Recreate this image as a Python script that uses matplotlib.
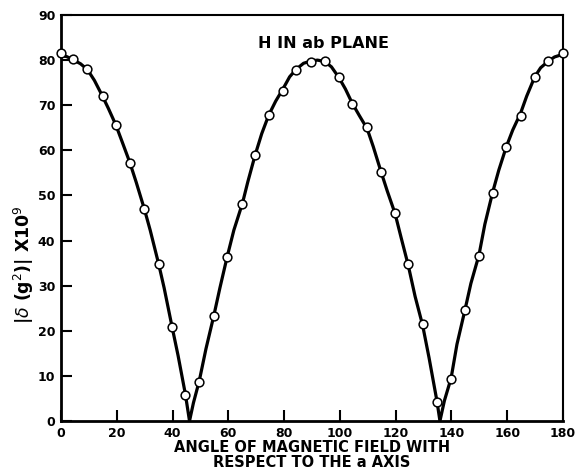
import matplotlib
matplotlib.use("Agg")
import matplotlib.pyplot as plt

# Measured data points (angle in degrees, |delta(g^2)| x 1e9)
angles = [0, 4.3, 9.5, 14.9, 19.7, 24.7, 29.9, 35.0, 39.8, 44.6, 49.6, 54.8, 59.6,
          65.1, 69.6, 74.5, 79.6, 84.4, 89.6, 94.6, 99.7, 104.4, 109.8, 114.7, 119.8,
          124.5, 129.7, 134.8, 139.9, 144.9, 149.9, 154.8, 159.7, 164.8, 169.9, 174.8, 180]
values = [81.5, 80.2, 78.1, 72.0, 65.6, 57.3, 47.0, 34.7, 20.8, 5.8, 8.7, 23.2, 36.4,
          48.1, 58.9, 67.8, 73.2, 77.9, 79.6, 79.9, 76.3, 70.3, 65.2, 55.3, 46.2,
          34.7, 21.4, 4.1, 9.2, 24.5, 36.5, 50.6, 60.8, 67.7, 76.3, 79.7, 81.5]

# Smooth curve (with cusps at zero crossings)
curve_angles = [0, 2, 4.3, 7, 9.5, 12, 14.9, 17, 19.7, 22, 24.7, 27, 29.9, 32, 35.0, 37,
                39.8, 42, 44.6, 46.1, 47.5, 49.6, 52, 54.8, 57, 59.6, 62, 65.1, 67, 69.6,
                72, 74.5, 77, 79.6, 82, 84.4, 87, 89.6, 92, 94.6, 97, 99.7, 102, 104.4,
                107, 109.8, 112, 114.7, 117, 119.8, 122, 124.5, 127, 129.7, 132, 134.8,
                135.9, 137.5, 139.9, 142, 144.9, 147, 149.9, 152, 154.8, 157, 159.7, 162,
                164.8, 167, 169.9, 172, 174.8, 177, 180]
curve_values = [81.0, 80.8, 80.1, 79.2, 77.9, 75.5, 72.0, 69.3, 65.6, 61.8, 57.3, 52.9,
                47.0, 42.3, 34.9, 29.5, 21.0, 14.5, 6.0, 0.0, 4.0, 8.9, 16.0, 23.3, 29.5,
                36.4, 42.3, 48.3, 53.0, 58.9, 63.7, 67.8, 70.9, 73.6, 76.3, 78.0, 79.3,
                79.8, 80.0, 79.7, 78.5, 76.1, 73.6, 70.5, 67.7, 64.8, 60.8, 55.4, 51.0,
                46.0, 40.6, 34.6, 27.6, 21.2, 14.0, 4.5, 0.0, 4.5, 9.5, 17.0, 24.7, 30.5,
                36.8, 43.6, 50.7, 55.6, 60.8, 64.5, 68.2, 72.0, 76.3, 78.3, 79.8, 80.7, 81.3]

xticks = [0, 20, 40, 60, 80, 100, 120, 140, 160, 180]
yticks = [0, 10, 20, 30, 40, 50, 60, 70, 80, 90]

fig = plt.figure(figsize=(5.75, 4.75), dpi=100)
ax = fig.add_axes([0.106, 0.1137, 0.873, 0.8547])

ax.plot(curve_angles, curve_values, color="black", lw=2.3, solid_joinstyle="round", zorder=2)
ax.plot(angles, values, linestyle="none", marker="o", markersize=6.3,
        markerfacecolor="white", markeredgecolor="black", markeredgewidth=1.1,
        zorder=3, clip_on=False)

ax.set_xlim(0, 180)
ax.set_ylim(0, 90)
ax.set_xticks(xticks)
ax.set_yticks(yticks)
ax.tick_params(direction="in", length=8, width=1.5, top=False, right=False,
               labelsize=9, pad=4)
for lab in ax.get_xticklabels() + ax.get_yticklabels():
    lab.set_fontweight("bold")
for s in ax.spines.values():
    s.set_linewidth(1.5)
ax.spines["left"].set_linewidth(2)
ax.spines["bottom"].set_linewidth(2)

ax.text(94.3, 83.6, "H IN ab PLANE", ha="center", va="center", fontsize=11.5, fontweight="bold")

ax.set_xlabel("ANGLE OF MAGNETIC FIELD WITH\nRESPECT TO THE a AXIS", fontsize=10.5,
              fontweight="bold", linespacing=0.95)
ax.xaxis.set_label_coords(0.5, -0.048)
ax.set_ylabel(r"|$\delta$ (g$^2$)| X10$^9$", fontsize=12.5, fontweight="bold")
ax.yaxis.set_label_coords(-0.05, 0.384)

fig.savefig("out.png", dpi=100)
